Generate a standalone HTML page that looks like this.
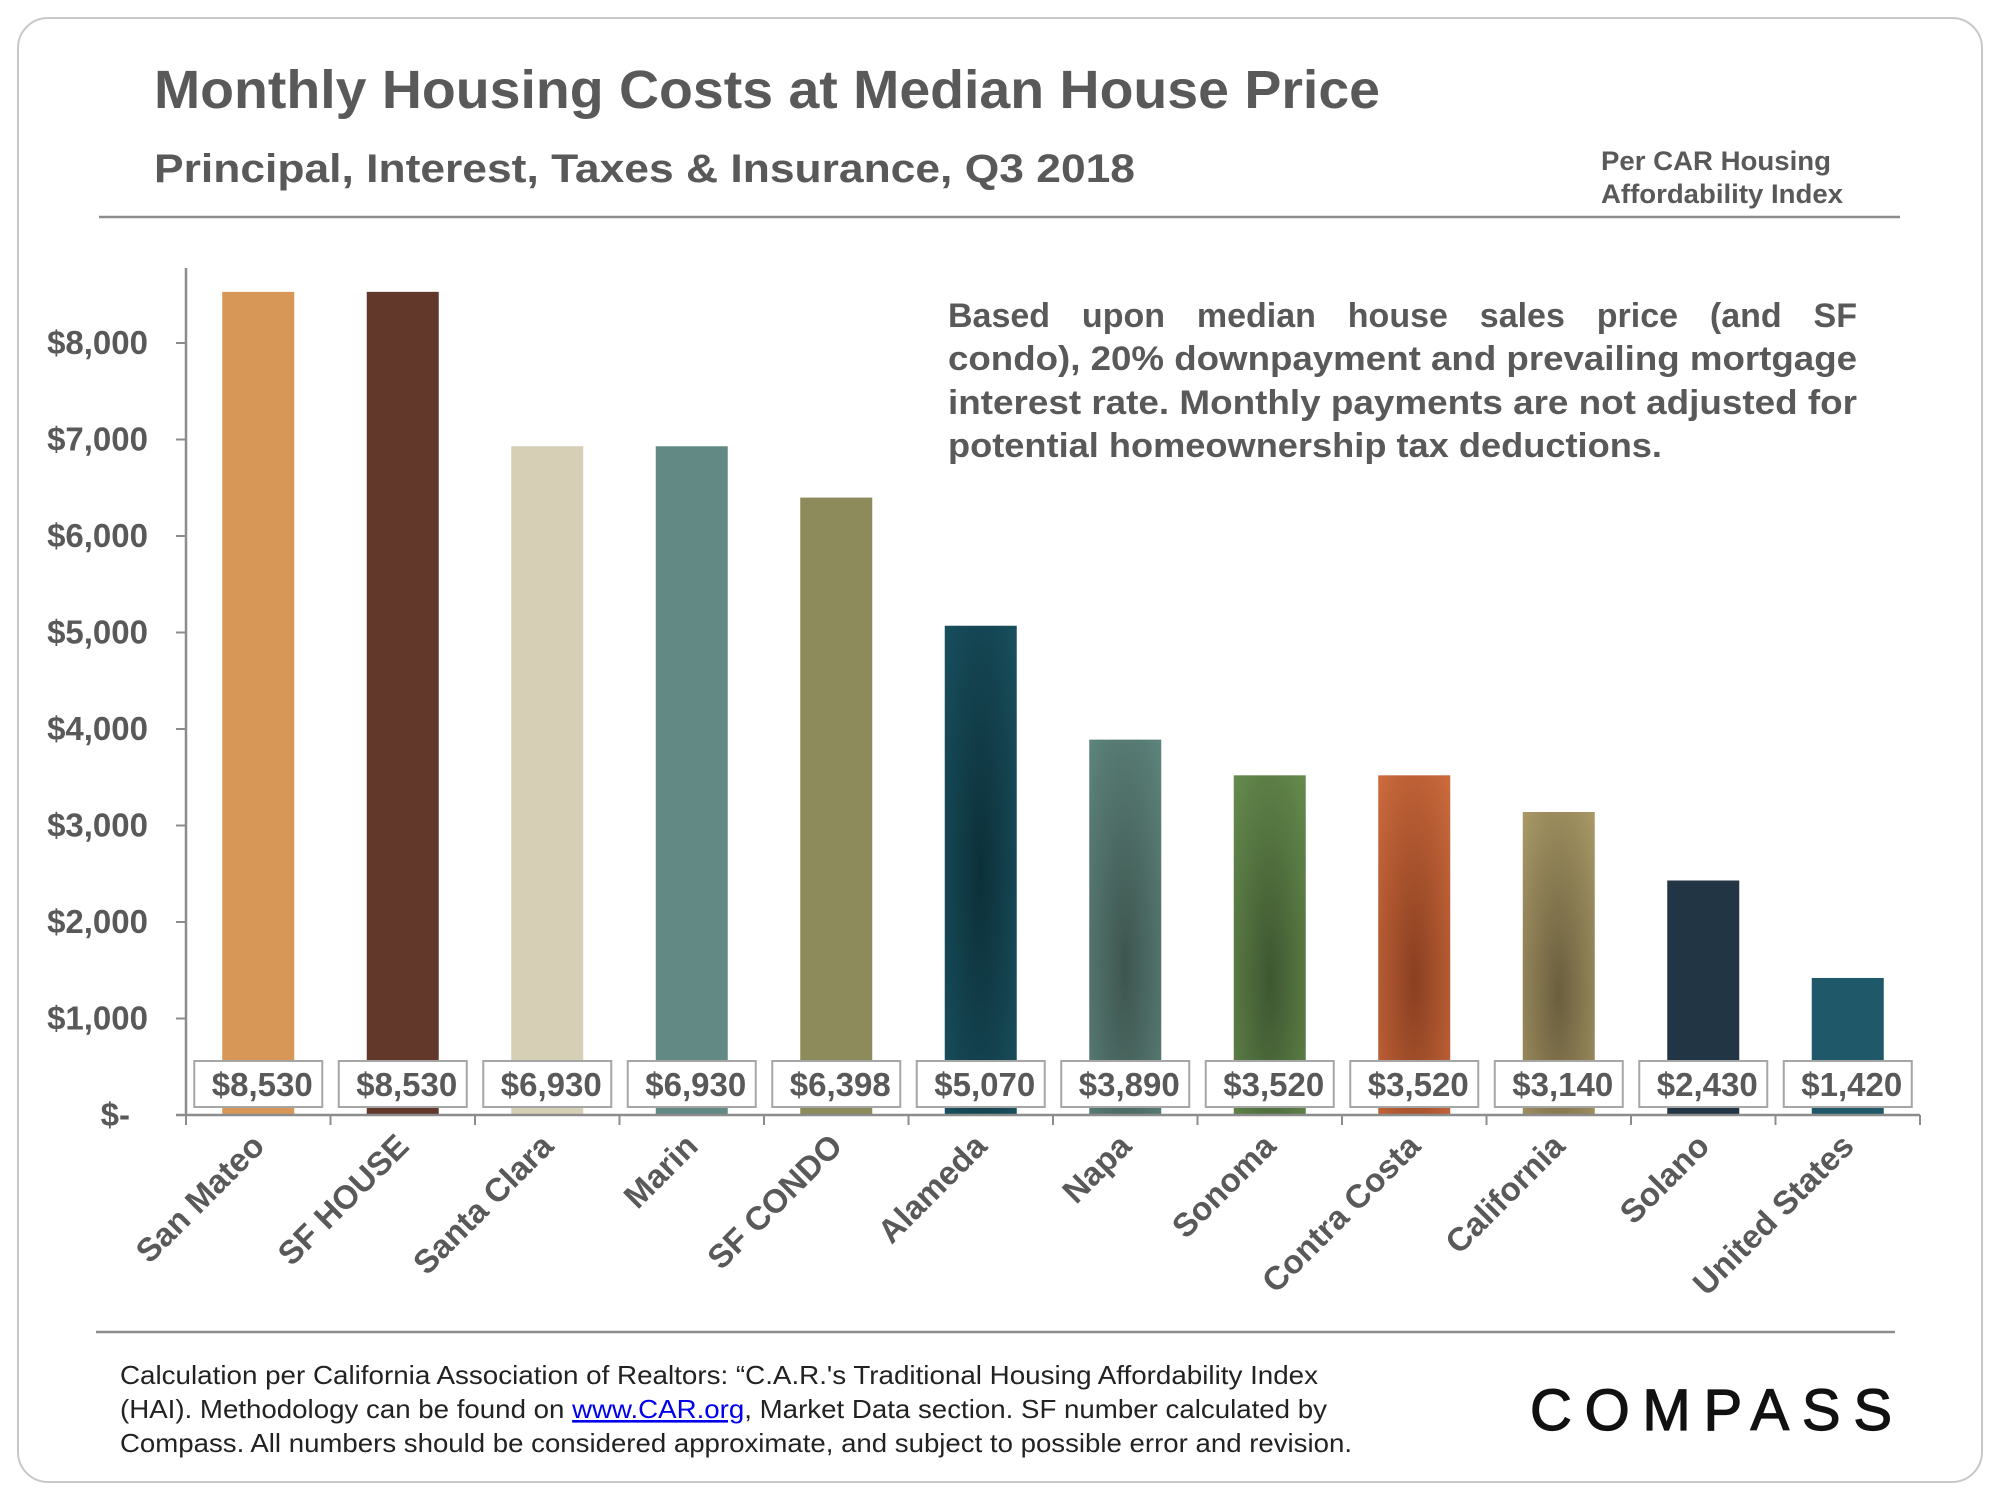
<!DOCTYPE html>
<html><head><meta charset="utf-8"><style>
html,body{margin:0;padding:0;background:#fff}
svg{display:block;font-family:"Liberation Sans",Arial,sans-serif}
</style></head><body>
<svg id="chart" width="2000" height="1500" viewBox="0 0 2000 1500" xmlns="http://www.w3.org/2000/svg">
<defs>
<radialGradient id="g5" cx="0.5" cy="0.5" r="0.9"><stop offset="0" stop-color="#0c3039"/><stop offset="1" stop-color="#1c5868"/></radialGradient>
<radialGradient id="g6" cx="0.5" cy="0.6" r="0.9"><stop offset="0" stop-color="#3e554f"/><stop offset="1" stop-color="#628c84"/></radialGradient>
<radialGradient id="g7" cx="0.5" cy="0.6" r="0.9"><stop offset="0" stop-color="#3d5630"/><stop offset="1" stop-color="#6d9452"/></radialGradient>
<radialGradient id="g8" cx="0.5" cy="0.6" r="0.9"><stop offset="0" stop-color="#8a3f20"/><stop offset="1" stop-color="#d87242"/></radialGradient>
<radialGradient id="g9" cx="0.5" cy="0.6" r="0.9"><stop offset="0" stop-color="#6a5e3e"/><stop offset="1" stop-color="#b3a36d"/></radialGradient>
</defs>
<rect x="18" y="18" width="1964" height="1464" rx="30" fill="#fff" stroke="#c8c8c8" stroke-width="2"/>
<text x="154" y="108" font-size="54" font-weight="bold" fill="#595959" textLength="1226" lengthAdjust="spacingAndGlyphs">Monthly Housing Costs at Median House Price</text>
<text x="154" y="182" font-size="40" font-weight="bold" fill="#595959" textLength="981" lengthAdjust="spacingAndGlyphs">Principal, Interest, Taxes &amp; Insurance, Q3 2018</text>
<text font-size="27" font-weight="bold" fill="#595959"><tspan x="1601" y="170" textLength="230" lengthAdjust="spacingAndGlyphs">Per CAR Housing</tspan><tspan x="1601" y="203" textLength="242" lengthAdjust="spacingAndGlyphs">Affordability Index</tspan></text>
<line x1="99" y1="217" x2="1900" y2="217" stroke="#8c8c8c" stroke-width="2.5"/>
<g font-size="34" font-weight="bold" fill="#595959">
<text id="ann1" x="948" y="327">Based upon median house sales price (and SF</text>
<text x="948" y="370" textLength="909" lengthAdjust="spacingAndGlyphs">condo), 20% downpayment and prevailing mortgage</text>
<text x="948" y="414" textLength="909" lengthAdjust="spacingAndGlyphs">interest rate. Monthly payments are not adjusted for</text>
<text x="948" y="457" textLength="714" lengthAdjust="spacingAndGlyphs">potential homeownership tax deductions.</text>
</g>
<g id="plot"></g>
<line x1="96" y1="1332" x2="1895" y2="1332" stroke="#8c8c8c" stroke-width="2.5"/>
<g font-size="26" fill="#222">
<text x="120" y="1384" textLength="1198" lengthAdjust="spacingAndGlyphs">Calculation per California Association of Realtors: “C.A.R.'s Traditional Housing Affordability Index</text>
<text x="120" y="1418" textLength="1207" lengthAdjust="spacingAndGlyphs">(HAI). Methodology can be found on <tspan fill="#0000ee" text-decoration="underline">www.CAR.org</tspan>, Market Data section. SF number calculated by</text>
<text x="120" y="1452" textLength="1232" lengthAdjust="spacingAndGlyphs">Compass. All numbers should be considered approximate, and subject to possible error and revision.</text>
</g>
<text x="1530" y="1430" font-size="58" fill="#111" stroke="#111" stroke-width="1.2" textLength="362" lengthAdjust="spacing">COMPASS</text>
</svg>
<script>
const categories = ["San Mateo","SF HOUSE","Santa Clara","Marin","SF CONDO","Alameda","Napa","Sonoma","Contra Costa","California","Solano","United States"];
const values = [8530,8530,6930,6930,6398,5070,3890,3520,3520,3140,2430,1420];
const valueLabels = ["$8,530","$8,530","$6,930","$6,930","$6,398","$5,070","$3,890","$3,520","$3,520","$3,140","$2,430","$1,420"];
const yTicks = [0,1000,2000,3000,4000,5000,6000,7000,8000];
const yTickLabels = ["$-","$1,000","$2,000","$3,000","$4,000","$5,000","$6,000","$7,000","$8,000"];
const barFills = ["#d69757","#62382b","#d6cfb5","#628983","#8d8a5c","url(#g5)","url(#g6)","url(#g7)","url(#g8)","url(#g9)","#223545","#1f5868"];

const NS="http://www.w3.org/2000/svg";
const X0=186, X1=1920, Y0=1115, PER1000=96.5;
const bw=(X1-X0)/categories.length;
function y(v){return Y0 - v/1000*PER1000;}
function xc(i){return X0 + bw*(i+0.5);}
const plot=document.getElementById('plot');
function mk(t,a,p){const e=document.createElementNS(NS,t);for(const k in a)e.setAttribute(k,a[k]);(p||plot).appendChild(e);return e;}

(function(){const a=document.getElementById('ann1');const w=a.getComputedTextLength();const gaps=(a.textContent.match(/ /g)||[]).length;if(gaps&&w<909)a.setAttribute('word-spacing',((909-w)/gaps).toFixed(2));})();

const yaxis=mk('line',{x1:X0,y1:268,x2:X0,y2:Y0,stroke:'#8c8c8c','stroke-width':2.5});


yTicks.forEach((v,i)=>{
  const t=mk('line',{x1:X0-10,y1:y(v),x2:X0,y2:y(v),stroke:'#8c8c8c','stroke-width':2});
  
  
  const l=mk('text',{x:i===0?130:148,y:y(v)+11,'text-anchor':'end','font-size':33,'font-weight':'bold',fill:'#595959'});
  
  
  l.textContent=yTickLabels[i];
});
values.forEach((v,i)=>{
  const b=mk('rect',{x:xc(i)-36,y:y(v),width:72,height:Y0-y(v),fill:barFills[i]});
  
  
});
const xaxis=mk('line',{x1:X0-10,y1:Y0,x2:X1,y2:Y0,stroke:'#8c8c8c','stroke-width':2.5});


for(let i=0;i<=categories.length;i++){
  const t=mk('line',{x1:X0+bw*i,y1:Y0,x2:X0+bw*i,y2:Y0+10,stroke:'#8c8c8c','stroke-width':2});
  
  
}
values.forEach((v,i)=>{
  const r=mk('rect',{x:xc(i)-64,y:1061,width:128,height:46,fill:'#fff',stroke:'#a6a6a6','stroke-width':2});
  
  
  const t=mk('text',{x:xc(i)+4,y:1096,'text-anchor':'middle','font-size':33,'font-weight':'bold',fill:'#595959'});
  
  
  t.textContent=valueLabels[i];
});
categories.forEach((c,i)=>{
  const ax=xc(i)+8, ay=1148;
  const t=mk('text',{x:ax,y:ay,'text-anchor':'end','font-size':33,'font-weight':'bold',fill:'#595959',transform:`rotate(-45 ${ax} ${ay})`});
  
  
  t.textContent=c;
});
</script>
</body></html>
